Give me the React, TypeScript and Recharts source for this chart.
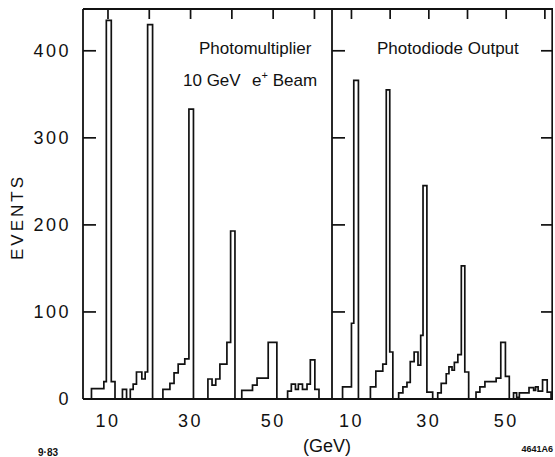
import { LineChart, Line, XAxis, YAxis } from "recharts";

const INK = "#111";
const FONT = "'Liberation Sans', Arial, sans-serif";

const yTicks = [0, 100, 200, 300, 400];
const innerYTicks = [100, 200, 300, 400];
const topTicks = [10, 20, 30, 40, 50, 60];
const bottomTicks = [10, 30, 50];

// photomultiplier histogram: bin edge (GeV) and count from that edge on
const pmGeV = [
  4.0, 6.0, 9.0, 9.6, 10.8, 11.7, 13.5, 14.5, 15.4, 16.1, 16.9, 18.2, 19.0, 19.6, 20.8,
  23.3, 25.0, 26.0, 27.0, 28.6, 29.6, 30.7, 34.2, 35.2, 36.1, 37.1, 38.8, 39.7, 40.75,
  42.4, 45.0, 46.1, 48.8, 50.9, 53.5, 54.4, 55.4, 56.1, 57.1, 58.2, 59.0, 60.1, 61.1, 64.25,
];
const pmEvents = [
  0, 12, 20, 435, 20, 0, 11, 0, 11, 17, 31, 23, 31, 430, 0,
  11, 18, 30, 40, 46, 333, 0, 23, 16, 23, 40, 65, 193, 0,
  10, 16, 24, 65, 0, 9, 17, 11, 17, 11, 17, 45, 11, 0, 0,
];

// photodiode histogram
const pdGeV = [
  5.0, 7.7, 10.0, 10.6, 11.8, 14.9, 16.3, 18.1, 19.0, 19.9, 20.7,
  22.2, 23.3, 24.35, 25.2, 26.2, 27.2, 27.9, 28.5, 29.5, 31.0,
  32.3, 33.2, 34.5, 35.2, 36.0, 36.6, 37.5, 38.4, 39.3, 40.3,
  42.2, 43.2, 44.5, 47.4, 48.6, 49.8, 50.8,
  51.9, 52.7, 53.4, 55.9, 57.1, 57.6, 58.25, 59.4, 60.6, 61.6, 62.1,
];
const pdEvents = [
  0, 14, 87, 366, 0, 14, 32, 40, 355, 54, 0,
  7, 14, 19, 43, 54, 39, 73, 245, 8, 0,
  7, 18, 29, 37, 33, 42, 51, 153, 31, 0,
  8, 14, 20, 24, 65, 26, 0,
  7, 2, 7, 13, 10, 14, 9, 22, 8, 0, 0,
];

const toRows = (gev: number[], ev: number[]) =>
  gev.map((g, i) => ({ gev: g, events: ev[i] }));

const pmRows = toRows(pmGeV, pmEvents);
const pdRows = toRows(pdGeV, pdEvents);

const pmDomain: [number, number] = [3.95, 64.25];
const pdDomain: [number, number] = [4.97, 62.1];
const yDomain: [number, number] = [0, 448];

// plot sizes in px, used only to turn tick lengths into axis units
const TOP = 9;
const PLOT_H = 390;
const PM_W = 249;
const PD_W = 221;
const pmPerPx = (pmDomain[1] - pmDomain[0]) / PM_W;
const pdPerPx = (pdDomain[1] - pdDomain[0]) / PD_W;
const evPerPx = (yDomain[1] - yDomain[0]) / PLOT_H;

// frame tick marks as two-point segments in axis units
const hMark = (g0: number, g1: number, v: number) => [
  { gev: g0, events: v },
  { gev: g1, events: v },
];
const vMark = (g: number) => [
  { gev: g, events: yDomain[1] },
  { gev: g, events: yDomain[1] - 10 * evPerPx },
];

const pmMarks = [
  ...innerYTicks.map((v) => hMark(pmDomain[0], pmDomain[0] + 13 * pmPerPx, v)),
  ...topTicks.map(vMark),
];
const pdMarks = [
  ...innerYTicks.map((v) => hMark(pdDomain[0], pdDomain[0] + 13 * pdPerPx, v)),
  ...innerYTicks.map((v) => hMark(pdDomain[1] - 12 * pdPerPx, pdDomain[1], v)),
  ...topTicks.map(vMark),
  [
    { gev: pdDomain[1] - 0.8 * pdPerPx, events: yDomain[0] },
    { gev: pdDomain[1] - 0.8 * pdPerPx, events: yDomain[1] },
  ],
];

const axisStroke = { stroke: INK, strokeWidth: 1.8 };
const tickFont = { fill: INK, fontSize: 18, fontFamily: FONT, letterSpacing: 2.5 };

const markLines = (marks: { gev: number; events: number }[][]) =>
  marks.map((m, i) => (
    <Line
      key={`mark${i}`}
      xAxisId="b"
      data={m}
      dataKey="events"
      type="linear"
      stroke={INK}
      strokeWidth={1.7}
      dot={false}
      activeDot={false}
      legendType="none"
      isAnimationActive={false}
    />
  ));

export default function App() {
  return (
    <div style={{ position: "absolute", left: 0, top: 0, width: 555, height: 457, background: "#fff" }}>
      <div style={{ position: "absolute", left: 0, top: 0 }}>
        <LineChart width={340} height={457} data={pmRows} margin={{ top: TOP, right: 8, bottom: 28, left: 0 }}>
          <XAxis
            xAxisId="b"
            dataKey="gev"
            type="number"
            domain={pmDomain}
            ticks={bottomTicks}
            interval={0}
            tickLine={false}
            axisLine={axisStroke}
            tick={tickFont}
            tickMargin={9}
            height={30}
            allowDataOverflow
          />
          <XAxis
            xAxisId="t"
            orientation="top"
            mirror
            type="number"
            domain={pmDomain}
            ticks={topTicks}
            tick={false}
            tickLine={false}
            axisLine={axisStroke}
            allowDataOverflow
          />
          <YAxis
            type="number"
            domain={yDomain}
            ticks={yTicks}
            interval={0}
            width={83}
            tickSize={0}
            tickMargin={12}
            tick={tickFont}
            tickLine={false}
            axisLine={axisStroke}
            allowDataOverflow
          />
          {markLines(pmMarks)}
          <Line
            xAxisId="b"
            dataKey="events"
            type="stepAfter"
            stroke={INK}
            strokeWidth={1.7}
            dot={false}
            isAnimationActive={false}
          />
        </LineChart>
      </div>

      <div style={{ position: "absolute", left: 312, top: 0 }}>
        <LineChart width={243} height={457} data={pdRows} margin={{ top: TOP, right: 2, bottom: 28, left: 20 }}>
          <XAxis
            xAxisId="b"
            dataKey="gev"
            type="number"
            domain={pdDomain}
            ticks={bottomTicks}
            interval={0}
            tickLine={false}
            axisLine={axisStroke}
            tick={tickFont}
            tickMargin={9}
            height={30}
            allowDataOverflow
          />
          <XAxis
            xAxisId="t"
            orientation="top"
            mirror
            type="number"
            domain={pdDomain}
            ticks={topTicks}
            tick={false}
            tickLine={false}
            axisLine={axisStroke}
            allowDataOverflow
          />
          <YAxis
            mirror
            type="number"
            domain={yDomain}
            ticks={yTicks}
            tick={false}
            tickLine={false}
            axisLine={axisStroke}
            allowDataOverflow
          />
          {markLines(pdMarks)}
          <Line
            xAxisId="b"
            dataKey="events"
            type="stepAfter"
            stroke={INK}
            strokeWidth={1.7}
            dot={false}
            isAnimationActive={false}
          />
        </LineChart>
      </div>

      <svg
        width={555}
        height={457}
        style={{ position: "absolute", left: 0, top: 0, pointerEvents: "none" }}
        fontFamily={FONT}
        fill={INK}
      >
        <text x={199} y={54} fontSize={17}>Photomultiplier</text>
        <text x={183} y={86} fontSize={17}>10 GeV</text>
        <text x={252} y={86} fontSize={17}>
          e<tspan dy={-7} fontSize={11}>+</tspan>
          <tspan dy={7}> Beam</tspan>
        </text>
        <text x={377} y={54} fontSize={17}>Photodiode Output</text>
        <text
          x={17}
          y={217}
          dy={6}
          fontSize={17}
          letterSpacing={3}
          textAnchor="middle"
          transform="rotate(-90 17 217)"
        >
          EVENTS
        </text>
        <text x={327} y={452} fontSize={18} textAnchor="middle">(GeV)</text>
        <text x={38} y={456} fontSize={10} fontWeight="bold">9·83</text>
        <text x={553} y={452} fontSize={9} fontWeight="bold" textAnchor="end">4641A6</text>
      </svg>
    </div>
  );
}
